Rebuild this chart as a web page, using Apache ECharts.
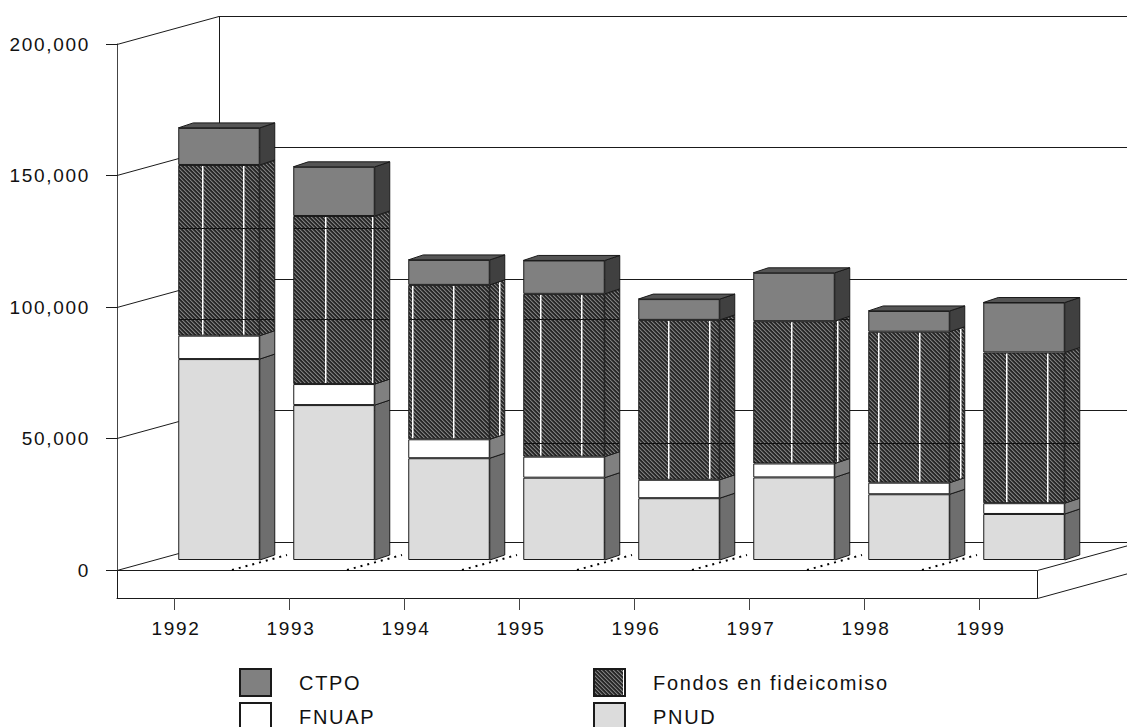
<!DOCTYPE html>
<html>
<head>
<meta charset="utf-8">
<style>
html,body{margin:0;padding:0;background:#fff;overflow:hidden}
#c{width:1127px;height:727px}
svg text{letter-spacing:1.7px}
</style>
<script src="https://cdn.jsdelivr.net/npm/echarts@6/dist/echarts.min.js"></script>
</head>
<body>
<div id="c"></div>
<script>
// ---- data ----
var years = ['1992','1993','1994','1995','1996','1997','1998','1999'];
var PNUD   = [76400,58900,38700,31300,23500,31400,25000,17500];
var FNUAP  = [ 8900, 8000, 7200, 8000, 7000, 5300, 4400, 4100];
var Fondos = [64900,63900,58700,61900,60800,54100,57400,57300];
var CTPO   = [14100,18700, 9500,12700, 7900,18400, 7900,19000];
var axisTicks = [0,50000,100000,150000,200000];

// ---- look ----
var W = 1127, H = 727;
var PLOT = {left:117, top:44, width:920, height:526};
var WALL = {dx:102, dy:28};
var SLAB = 28;
var BAR = {shiftX:44.5, shiftY:10, width:81.5, sideX:15, sideY:5};
var INK = '#1a1a1a';
var FONT = '"Liberation Sans", Arial, sans-serif';

// fill of the hatched series: fine diagonal hatching with the print seams of the original
var SEAM_X = [202,243,325,372,412,453,499,540,581,668,709,791,837,878,919,960,1006,1047];
var SEAM_Y = [228,319,443];
function hatch(){
  var cv = document.createElement('canvas'); cv.width = W; cv.height = H;
  var ctx = cv.getContext('2d');
  var img = ctx.createImageData(W,H), d = img.data;
  var ramp = [0x26,0x2c,0x7e,0x4c];
  for (var y=0;y<H;y++) for (var x=0;x<W;x++){
    var v = ramp[((x-y)%4+4)%4], k=(y*W+x)*4;
    d[k]=d[k+1]=d[k+2]=v; d[k+3]=255;
  }
  ctx.putImageData(img,0,0);
  ctx.fillStyle='#fff';
  SEAM_X.forEach(function(x){ctx.fillRect(x,100,1,H-100);});
  ctx.fillRect(29,0,1,28); // seam in the legend swatch
  ctx.fillStyle='rgba(255,255,255,0.5)';
  SEAM_X.forEach(function(x){ctx.fillRect(x+1,100,1,H-100);});
  ctx.fillStyle='#111';
  SEAM_Y.forEach(function(y){ctx.fillRect(100,y,W-100,1);});
  return {image:cv.toDataURL(), repeat:'repeat', imageWidth:W, imageHeight:H};
}
var hatchFill = hatch();

var LAYERS = [
  {name:'PNUD', values:PNUD, front:'#dcdcdc', side:'#6e6e6e'},
  {name:'FNUAP', values:FNUAP, front:'#ffffff', side:'#808080'},
  {name:'Fondos en fideicomiso', values:Fondos, front:hatchFill, side:hatchFill},
  {name:'CTPO', values:CTPO, front:'#808080', side:'#404040', top:'#555555'}
];

var lineStyle = {stroke:INK, lineWidth:1, fill:null};
var series = [];

// walls: one line per value tick, running along the side wall then the back wall
series.push({
  type:'custom', name:'walls', xAxisIndex:0, yAxisIndex:0, z:1, silent:true,
  data:axisTicks.map(function(v){return [0,v];}),
  encode:{x:0,y:1},
  renderItem:function(params,api){
    var y = Math.floor(api.coord([0,api.value(1)])[1])+0.5, x0 = params.coordSys.x;
    return {type:'polyline', shape:{points:[[x0,y],[x0+WALL.dx,y-WALL.dy],[W,y-WALL.dy]]}, style:lineStyle};
  }
});
// floor slab and wall corner
series.push({
  type:'custom', name:'frame', xAxisIndex:0, yAxisIndex:0, z:1, silent:true,
  data:[[0,0]], encode:{x:0,y:1},
  renderItem:function(params,api){
    var cs = params.coordSys, x0=cs.x+0.5, x1=cs.x+cs.width+0.5,
        y0=api.coord([0,0])[1]+0.5, yT=api.coord([0,axisTicks[axisTicks.length-1]])[1]+0.5;
    var k = WALL.dy/WALL.dx, r = W-x1;
    var ln=function(p){return {type:'polyline',shape:{points:p},style:lineStyle};};
    return {type:'group',children:[
      ln([[x0+WALL.dx,yT-WALL.dy],[x0+WALL.dx,y0-WALL.dy]]),
      ln([[x0,y0],[x1,y0],[x1,y0+SLAB]]),
      ln([[x0,y0],[x0,y0+SLAB]]),
      ln([[x1,y0],[W,y0-r*k]]),
      ln([[x1,y0+SLAB],[W,y0+SLAB-r*k]])
    ]};
  }
});
// dotted floor lines at the category boundaries
series.push({
  type:'custom', name:'floorDots', xAxisIndex:0, yAxisIndex:0, z:1, silent:true,
  data:years.slice(1).map(function(y,i){return [i,0];}), encode:{x:0,y:1},
  renderItem:function(params,api){
    var p = api.coord([api.value(0),0]), b = api.size([1,0])[0], x=p[0]+b/2;
    return {type:'line', shape:{x1:x,y1:p[1],x2:x+55,y2:p[1]-15},
      style:{stroke:'#000',lineWidth:2,lineDash:[2,5],fill:null}};
  }
});

// stacked front faces
LAYERS.forEach(function(l){
  series.push({
    type:'bar', name:l.name, stack:'total', xAxisIndex:1, yAxisIndex:1, z:3,
    barWidth:BAR.width, data:l.values,
    itemStyle:{color:l.front, borderColor:INK, borderWidth:1}
  });
});
// side and top faces of the stack, from the same values
var below = years.map(function(){return 0;});
LAYERS.forEach(function(l){
  var rows = l.values.map(function(v,i){var r=[i,below[i],below[i]+v]; below[i]+=v; return r;});
  series.push({
    type:'custom', name:l.name+' depth', xAxisIndex:1, yAxisIndex:1, z:3, silent:true,
    data:rows, encode:{x:0,y:[1,2]},
    renderItem:function(params,api){
      var i=api.value(0), a=api.coord([i,api.value(1)]), b=api.coord([i,api.value(2)]);
      var x=a[0]+BAR.width/2, sx=BAR.sideX, sy=BAR.sideY;
      var kids=[{type:'polygon',shape:{points:[[x,a[1]],[x+sx,a[1]-sy],[x+sx,b[1]-sy],[x,b[1]]]},
        style:{fill:l.side,stroke:INK,lineWidth:1}}];
      if(l.top){
        kids.push({type:'polygon',shape:{points:[[x-BAR.width,b[1]],[x-BAR.width+sx,b[1]-sy],[x+sx,b[1]-sy],[x,b[1]]]},
          style:{fill:l.top,stroke:INK,lineWidth:1}});
      }
      return {type:'group',children:kids};
    }
  });
});

function legendFor(names,left){
  return {
    orient:'vertical', left:left, top:668, height:90, padding:0, itemWidth:31, itemHeight:27, itemGap:5,
    icon:'rect', selectedMode:false, data:names,
    textStyle:{fontFamily:FONT,fontSize:20,color:'#111',padding:[0,0,0,23]}
  };
}

var chart = echarts.init(document.getElementById('c'),null,{renderer:'svg',width:W,height:H});
chart.setOption({
  animation:false,
  backgroundColor:'#fff',
  grid:[
    {left:PLOT.left, top:PLOT.top, width:PLOT.width, height:PLOT.height},
    {left:PLOT.left+BAR.shiftX, top:PLOT.top-BAR.shiftY, width:PLOT.width, height:PLOT.height}
  ],
  xAxis:[
    {type:'category', gridIndex:0, data:years, offset:SLAB, boundaryGap:true,
     axisLine:{show:true,onZero:false,lineStyle:{color:INK,width:1}},
     axisTick:{show:true,alignWithLabel:true,length:12,lineStyle:{color:'#444',width:1}},
     axisLabel:{color:'#111',fontFamily:FONT,fontSize:19,margin:21,padding:[0,0,0,3]},
     splitLine:{show:false}},
    {type:'category', gridIndex:1, data:years, show:false}
  ],
  yAxis:[
    {type:'value', gridIndex:0, min:0, max:200000, interval:50000,
     axisLine:{show:true,lineStyle:{color:'#444',width:1}},
     axisTick:{show:true,length:11,lineStyle:{color:INK,width:1}},
     axisLabel:{color:'#111',fontFamily:FONT,fontSize:19,margin:27,
       formatter:function(v){return v.toLocaleString('en-US');}},
     splitLine:{show:false}},
    {type:'value', gridIndex:1, min:0, max:200000, show:false, splitLine:{show:false}}
  ],
  legend:[legendFor(['CTPO','FNUAP'],239), legendFor(['Fondos en fideicomiso','PNUD'],593)],
  series:series
});
</script>
</body>
</html>
